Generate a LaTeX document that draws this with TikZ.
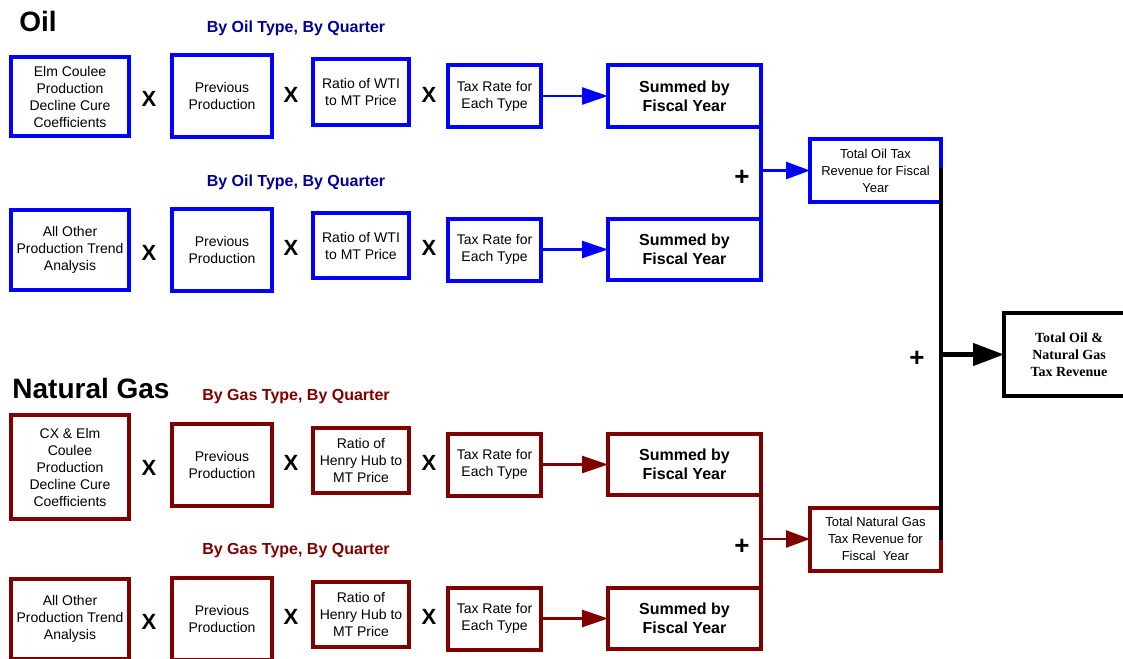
\documentclass[tikz,border=0pt]{standalone}
\usepackage{fontspec}
\setmainfont{Liberation Sans}
\newfontfamily\timesfont{Liberation Serif}
\usetikzlibrary{arrows.meta}

\definecolor{oilblue}{RGB}{0,0,255}
\definecolor{gasred}{RGB}{128,0,0}
\definecolor{oilhead}{RGB}{0,0,153}

\tikzset{
  box/.style={draw=#1, line width=4pt, outer sep=0pt, align=center, inner sep=1pt,
    font=\fontsize{14}{17}\selectfont},
  sumbox/.style={box=#1, minimum width=153pt, minimum height=61pt,
    font=\bfseries\fontsize{16}{19}\selectfont},
  totbox/.style={box=#1, minimum width=131pt, minimum height=63pt,
    font=\fontsize{13}{17}\selectfont},
  flow/.style={draw=#1, line width=2.5pt, -{Triangle[length=26pt,width=17pt]}},
  times/.style={font=\bfseries\fontsize{22}{22}\selectfont},
  plus/.style={font=\bfseries\fontsize{26}{26}\selectfont},
  head/.style={text=#1, font=\bfseries\fontsize{16}{19}\selectfont},
  title/.style={font=\bfseries\fontsize{28}{30}\selectfont},
}

\begin{document}
\begin{tikzpicture}[x=1pt,y=-1pt]
  \useasboundingbox (0,0) rectangle (1123,658);
  % titles
  \node[title] (oil) at (38,21) {Oil};
  \node[title] (gas) at (91,388) {Natural Gas};
  % first column
  \node[box=oilblue, minimum width=118pt, minimum height=79pt] (oila1) at (70,96.5)
    {Elm Coulee\\Production\\Decline Cure\\Coefficients};
  \node[box=oilblue, minimum width=118pt, minimum height=80pt] (oilb1) at (70,250)
    {All Other\\Production Trend\\Analysis};
  \node[box=gasred, minimum width=118pt, minimum height=104pt] (gasa1) at (70,467)
    {CX \& Elm\\Coulee\\Production\\Decline Cure\\Coefficients};
  \node[box=gasred, minimum width=118pt, minimum height=80pt] (gasb1) at (70,619)
    {All Other\\Production Trend\\Analysis};
  % rest of each row
  \foreach \n/\y/\c/\hc/\kind/\ratio in {
      oila/96/oilblue/oilhead/Oil/{Ratio of WTI\\to MT Price},
      oilb/249.5/oilblue/oilhead/Oil/{Ratio of WTI\\to MT Price},
      gasa/464.5/gasred/gasred/Gas/{Ratio of\\Henry Hub to\\MT Price},
      gasb/618.5/gasred/gasred/Gas/{Ratio of\\Henry Hub to\\MT Price}}
  {
    \node[head=\hc] (\n-head) at (296,\y-67.5) {By \kind\ Type, By Quarter};
    \node[box=\c, minimum width=100pt, minimum height=82pt] (\n2) at (222,\y)
      {Previous\\Production};
    \node[box=\c, minimum width=96pt, minimum height=65pt] (\n3) at (361,\y-4) {\ratio};
    \node[box=\c, minimum width=93pt, minimum height=62pt] (\n4) at (494.5,\y)
      {Tax Rate for\\Each Type};
    \node[sumbox=\c] (\n5) at (684.5,\y) {Summed by\\Fiscal Year};
    \node[times] (\n-x1) at (149,\y+3) {X};
    \node[times] (\n-x2) at (291,\y-1.5) {X};
    \node[times] (\n-x3) at (429,\y-1.5) {X};
    \draw[flow=\c] (\n4) -- (\n5);
  }
  % fiscal year totals
  \node[totbox=oilblue] (oiltot) at (875.5,170.5) {Total Oil Tax\\Revenue for Fiscal\\Year};
  \node[totbox=gasred] (gastot) at (875.5,539) {Total Natural Gas\\Tax Revenue for\\Fiscal\ \ Year};
  \draw[draw=oilblue, line width=4pt] (oila5.south east) -- (oilb5.north east);
  \draw[flow=oilblue, -{Triangle[length=24pt,width=17pt]}] (oila5.south east |- oiltot.west) -- (oiltot.west);
  \draw[draw=gasred, line width=4pt] (gasa5.south east) -- (gasb5.north east);
  \draw[flow=gasred, -{Triangle[length=24pt,width=17pt]}] (gasa5.south east |- gastot.west) -- (gastot.west);
  \node[plus] (oilplus) at (742,178) {+};
  \node[plus] (gasplus) at (742,547) {+};
  % grand total
  \node[box=black, minimum width=130pt, minimum height=83pt,
    font=\timesfont\bfseries\fontsize{14}{17}\selectfont] (total) at (1069,354.5)
    {Total Oil \&\\Natural Gas\\Tax Revenue};
  \draw[line width=4.5pt] ([yshift=2.5pt]oiltot.east) -- ([yshift=-1pt]gastot.east);
  \draw[line width=4.5pt, -{Triangle[length=31pt,width=22pt]}] (oiltot.east |- total.west) -- (total.west);
  \node[plus] (totplus) at (917,359) {+};
\end{tikzpicture}
\end{document}
